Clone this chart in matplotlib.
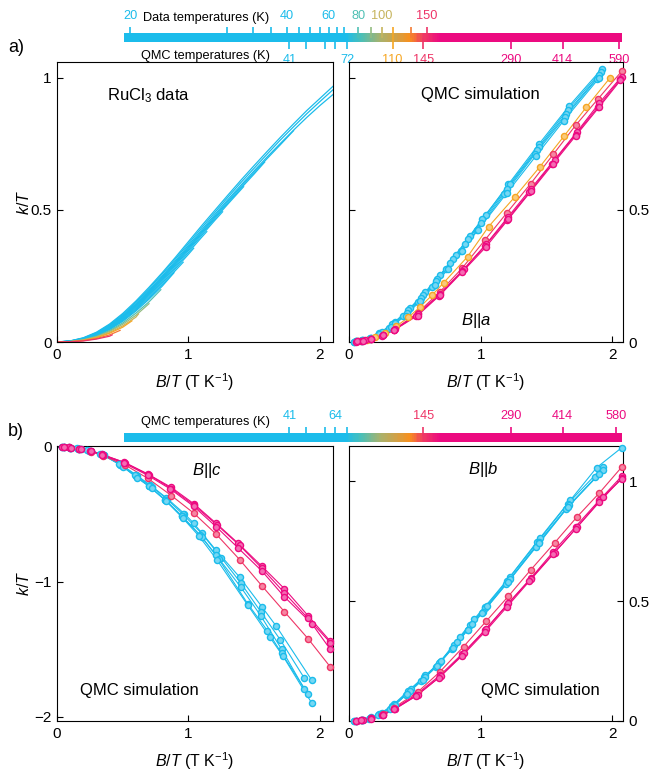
import numpy as np
import matplotlib
matplotlib.use("Agg")
import matplotlib.pyplot as plt
from matplotlib.colors import LinearSegmentedColormap, to_rgb

plt.rcParams['font.family'] = ['Liberation Sans', 'DejaVu Sans']
plt.rcParams['mathtext.fontset'] = 'custom'
plt.rcParams['mathtext.rm'] = 'Liberation Sans'
plt.rcParams['mathtext.it'] = 'Liberation Sans:italic'
plt.rcParams['mathtext.bf'] = 'Liberation Sans:bold'
plt.rcParams['axes.linewidth'] = 0.8

# ---------------------------------------------------------------- data
# RuCl3 measurements: k/T on a common B/T grid, each curve stops at its own end point
data_temps = [20, 25, 30, 35, 40, 45, 50, 55, 60, 65, 70, 80, 90, 100, 110, 130, 150]
data_grid = [0.0, 0.1, 0.2, 0.3, 0.4, 0.5, 0.6, 0.7, 0.8, 0.9, 1.0,
             1.1, 1.2, 1.3, 1.4, 1.5, 1.6, 1.7, 1.8, 1.9, 2.0]
data_end_x = [2.1, 2.1, 2.1, 1.8, 1.58, 1.42, 1.26, 1.14, 1.04, 0.96, 0.89,
              0.79, 0.70, 0.62, 0.57, 0.48, 0.42]
data_k_over_t = [
    [0, .004, .016, .037, .068, .108, .155, .207, .262, .320, .380, .440, .498, .556, .613, .668, .722, .775, .826, .876, .922, .968],
    [0, .004, .015, .035, .065, .104, .150, .202, .257, .314, .373, .432, .490, .548, .604, .658, .712, .765, .815, .864, .910, .955],
    [0, .003, .014, .033, .062, .100, .145, .196, .250, .307, .366, .424, .482, .539, .594, .648, .701, .752, .802, .850, .895, .937],
    [0, .003, .013, .032, .060, .097, .142, .192, .246, .302, .360, .418, .476, .533, .588, .642, .695, .747, .800],
    [0, .003, .013, .031, .058, .095, .139, .189, .242, .298, .356, .414, .471, .527, .582, .636, .681],
    [0, .003, .012, .030, .057, .093, .136, .185, .238, .294, .351, .409, .466, .522, .577, .588],
    [0, .003, .012, .029, .055, .090, .133, .182, .234, .289, .346, .403, .460, .493],
    [0, .002, .011, .028, .053, .087, .129, .177, .229, .283, .339, .396, .418],
    [0, .002, .011, .027, .051, .084, .125, .172, .223, .277, .332, .355],
    [0, .002, .010, .025, .049, .081, .121, .167, .217, .270, .302],
    [0, .002, .010, .024, .047, .078, .117, .162, .211, .262],
    [0, .002, .009, .022, .043, .072, .109, .152, .198],
    [0, .002, .008, .020, .040, .067, .101, .145],
    [0, .001, .007, .018, .036, .061, .094, .106],
    [0, .001, .006, .016, .033, .056, .080],
    [0, .001, .005, .013, .027, .044],
    [0, .001, .004, .011, .022, .027],
]

# QMC simulation, B || a
qmc_a_temps = [41, 48, 58, 64, 72, 110, 145, 290, 414, 590]
qmc_a_x = [
    [0.05, 0.11, 0.17, 0.23, 0.35, 0.46, 0.58, 0.69, 0.81, 0.92, 1.04, 1.21, 1.44, 1.67, 1.92],
    [0.04, 0.10, 0.16, 0.24, 0.33, 0.45, 0.56, 0.67, 0.79, 0.90, 1.01, 1.22, 1.44, 1.66, 1.91],
    [0.05, 0.10, 0.17, 0.25, 0.35, 0.44, 0.55, 0.66, 0.77, 0.88, 1.00, 1.20, 1.43, 1.65, 1.90],
    [0.04, 0.09, 0.15, 0.22, 0.30, 0.41, 0.52, 0.63, 0.74, 0.85, 0.97, 1.18, 1.41, 1.64, 1.88],
    [0.05, 0.10, 0.16, 0.23, 0.32, 0.43, 0.54, 0.65, 0.75, 0.86, 0.98, 1.20, 1.42, 1.63, 1.90],
    [0.07, 0.14, 0.20, 0.27, 0.36, 0.45, 0.54, 0.63, 0.72, 0.90, 1.06, 1.26, 1.45, 1.63, 1.80, 1.98],
    [0.09, 0.17, 0.26, 0.34, 0.52, 0.69, 0.86, 1.03, 1.20, 1.38, 1.55, 1.72, 1.89, 2.07],
    [0.07, 0.12, 0.17, 0.26, 0.35, 0.52, 0.69, 0.87, 1.04, 1.21, 1.38, 1.56, 1.73, 1.90, 2.07],
    [0.05, 0.10, 0.17, 0.25, 0.34, 0.51, 0.68, 0.86, 1.03, 1.20, 1.37, 1.54, 1.72, 1.89, 2.06],
    [0.06, 0.11, 0.17, 0.26, 0.34, 0.52, 0.69, 0.86, 1.04, 1.21, 1.38, 1.55, 1.72, 1.90, 2.06],
]
qmc_a_y = [
    [0.002, 0.008, 0.017, 0.033, 0.077, 0.127, 0.190, 0.252, 0.330, 0.403, 0.482, 0.597, 0.748, 0.893, 1.035],
    [0.001, 0.006, 0.015, 0.034, 0.068, 0.120, 0.177, 0.240, 0.315, 0.390, 0.465, 0.598, 0.740, 0.880, 1.022],
    [0.002, 0.006, 0.016, 0.036, 0.073, 0.110, 0.168, 0.230, 0.300, 0.372, 0.450, 0.580, 0.728, 0.865, 1.010],
    [0.001, 0.005, 0.012, 0.027, 0.053, 0.097, 0.150, 0.210, 0.275, 0.345, 0.423, 0.560, 0.710, 0.852, 0.995],
    [0.002, 0.005, 0.013, 0.029, 0.058, 0.100, 0.155, 0.215, 0.275, 0.345, 0.425, 0.565, 0.705, 0.838, 1.000],
    [0.002, 0.008, 0.018, 0.034, 0.060, 0.093, 0.133, 0.177, 0.225, 0.323, 0.437, 0.550, 0.664, 0.778, 0.888, 0.999],
    [0.004, 0.012, 0.027, 0.046, 0.110, 0.190, 0.280, 0.385, 0.490, 0.600, 0.710, 0.820, 0.920, 1.025],
    [0.002, 0.006, 0.012, 0.026, 0.048, 0.105, 0.183, 0.275, 0.370, 0.475, 0.580, 0.690, 0.795, 0.905, 1.005],
    [0.001, 0.004, 0.011, 0.024, 0.045, 0.100, 0.175, 0.268, 0.362, 0.463, 0.567, 0.675, 0.785, 0.890, 0.995],
    [0.002, 0.005, 0.011, 0.025, 0.044, 0.100, 0.177, 0.265, 0.360, 0.465, 0.570, 0.675, 0.780, 0.890, 0.990],
]

# QMC simulation, B || c
qmc_c_temps = [41, 48, 58, 64, 72, 145, 290, 414, 580]
qmc_c_x = [
    [0.04, 0.10, 0.17, 0.25, 0.36, 0.50, 0.61, 0.71, 0.83, 0.97, 1.04, 1.21, 1.39, 1.56, 1.67, 1.94],
    [0.05, 0.11, 0.18, 0.26, 0.35, 0.49, 0.60, 0.72, 0.84, 0.96, 1.10, 1.25, 1.40, 1.55, 1.70, 1.88],
    [0.05, 0.10, 0.16, 0.24, 0.34, 0.48, 0.60, 0.70, 0.82, 0.95, 1.09, 1.21, 1.40, 1.55, 1.71, 1.88],
    [0.04, 0.09, 0.15, 0.23, 0.33, 0.47, 0.59, 0.70, 0.82, 0.95, 1.10, 1.23, 1.45, 1.60, 1.71, 1.91],
    [0.05, 0.10, 0.17, 0.25, 0.36, 0.50, 0.61, 0.72, 0.83, 0.96, 1.08, 1.22, 1.45, 1.62, 1.72, 1.94],
    [0.09, 0.17, 0.26, 0.35, 0.52, 0.69, 0.87, 1.04, 1.21, 1.39, 1.56, 1.73, 1.91, 2.08],
    [0.05, 0.10, 0.17, 0.26, 0.34, 0.51, 0.69, 0.87, 1.04, 1.21, 1.38, 1.56, 1.73, 1.91, 2.08],
    [0.04, 0.09, 0.17, 0.25, 0.35, 0.52, 0.70, 0.87, 1.04, 1.22, 1.39, 1.56, 1.73, 1.91, 2.08],
    [0.05, 0.11, 0.18, 0.26, 0.34, 0.51, 0.69, 0.86, 1.04, 1.21, 1.38, 1.56, 1.73, 1.94, 2.08],
]
qmc_c_y = [
    [-0.001, -0.005, -0.013, -0.028, -0.058, -0.138, -0.213, -0.283, -0.375, -0.495, -0.565, -0.765, -0.965, -1.185, -1.330, -1.730],
    [-0.002, -0.006, -0.015, -0.031, -0.057, -0.135, -0.210, -0.293, -0.390, -0.500, -0.640, -0.820, -1.010, -1.220, -1.430, -1.710],
    [-0.002, -0.005, -0.012, -0.027, -0.054, -0.132, -0.215, -0.290, -0.390, -0.510, -0.655, -0.800, -1.040, -1.250, -1.500, -1.790],
    [-0.001, -0.004, -0.011, -0.025, -0.050, -0.125, -0.210, -0.290, -0.392, -0.515, -0.665, -0.830, -1.160, -1.360, -1.530, -1.830],
    [-0.002, -0.005, -0.014, -0.030, -0.060, -0.145, -0.230, -0.305, -0.400, -0.530, -0.660, -0.840, -1.170, -1.410, -1.550, -1.900],
    [-0.004, -0.015, -0.035, -0.065, -0.135, -0.232, -0.360, -0.490, -0.645, -0.835, -1.030, -1.220, -1.420, -1.630],
    [-0.002, -0.005, -0.013, -0.030, -0.055, -0.113, -0.200, -0.300, -0.420, -0.565, -0.715, -0.885, -1.050, -1.250, -1.440],
    [-0.001, -0.004, -0.014, -0.030, -0.058, -0.118, -0.207, -0.308, -0.430, -0.580, -0.730, -0.900, -1.080, -1.270, -1.450],
    [-0.002, -0.006, -0.016, -0.031, -0.058, -0.120, -0.210, -0.310, -0.440, -0.590, -0.750, -0.920, -1.110, -1.310, -1.500],
]

# QMC simulation, B || b
qmc_b_temps = [41, 48, 58, 64, 72, 145, 290, 414, 580]
qmc_b_x = [
    [0.05, 0.11, 0.17, 0.23, 0.34, 0.47, 0.58, 0.69, 0.84, 0.95, 1.03, 1.22, 1.45, 1.68, 1.88, 2.07],
    [0.04, 0.10, 0.16, 0.24, 0.33, 0.45, 0.57, 0.68, 0.80, 0.92, 1.03, 1.20, 1.43, 1.66, 1.93],
    [0.05, 0.10, 0.17, 0.25, 0.35, 0.46, 0.58, 0.70, 0.82, 0.93, 1.05, 1.22, 1.44, 1.67, 1.93],
    [0.04, 0.09, 0.15, 0.22, 0.31, 0.43, 0.55, 0.66, 0.78, 0.90, 1.02, 1.19, 1.42, 1.65, 1.87],
    [0.05, 0.10, 0.16, 0.24, 0.33, 0.44, 0.56, 0.67, 0.79, 0.90, 1.01, 1.21, 1.44, 1.66, 1.90],
    [0.09, 0.17, 0.26, 0.34, 0.52, 0.69, 0.87, 1.04, 1.21, 1.38, 1.56, 1.73, 1.90, 2.07],
    [0.05, 0.10, 0.17, 0.26, 0.34, 0.51, 0.69, 0.86, 1.03, 1.20, 1.38, 1.55, 1.72, 1.90, 2.07],
    [0.06, 0.11, 0.17, 0.25, 0.35, 0.52, 0.70, 0.87, 1.04, 1.21, 1.38, 1.56, 1.73, 1.90, 2.07],
    [0.05, 0.09, 0.17, 0.26, 0.34, 0.51, 0.68, 0.86, 1.03, 1.20, 1.37, 1.55, 1.72, 1.93, 2.07],
]
qmc_b_y = [
    [0.002, 0.006, 0.015, 0.028, 0.070, 0.135, 0.190, 0.245, 0.350, 0.425, 0.475, 0.600, 0.763, 0.920, 1.056, 1.139],
    [0.001, 0.005, 0.012, 0.030, 0.062, 0.123, 0.183, 0.240, 0.318, 0.402, 0.470, 0.585, 0.745, 0.905, 1.060],
    [0.002, 0.005, 0.014, 0.032, 0.068, 0.125, 0.185, 0.250, 0.328, 0.405, 0.480, 0.590, 0.745, 0.900, 1.045],
    [0.001, 0.004, 0.010, 0.024, 0.052, 0.108, 0.168, 0.225, 0.300, 0.380, 0.455, 0.570, 0.725, 0.885, 1.015],
    [0.002, 0.005, 0.012, 0.028, 0.058, 0.112, 0.172, 0.230, 0.305, 0.378, 0.450, 0.580, 0.740, 0.890, 1.030],
    [0.004, 0.013, 0.030, 0.055, 0.120, 0.205, 0.310, 0.415, 0.520, 0.630, 0.742, 0.850, 0.950, 1.058],
    [0.002, 0.004, 0.011, 0.026, 0.050, 0.110, 0.190, 0.280, 0.378, 0.485, 0.595, 0.705, 0.810, 0.920, 1.020],
    [0.002, 0.005, 0.011, 0.024, 0.050, 0.109, 0.188, 0.282, 0.383, 0.490, 0.593, 0.702, 0.807, 0.912, 1.012],
    [0.002, 0.004, 0.010, 0.025, 0.048, 0.104, 0.180, 0.272, 0.370, 0.476, 0.583, 0.695, 0.800, 0.935, 1.008],
]

# temperature bars
bar_a_data_ticks = [20, 25, 30, 35, 40, 45, 50, 55, 60, 65, 70, 80, 90, 100, 110, 130, 150]
bar_a_data_labels = [20, 40, 60, 80, 100, 150]
bar_a_qmc_ticks = [41, 48, 58, 64, 72, 110, 145, 290, 414, 590]
bar_a_qmc_labels = [41, 72, 110, 145, 290, 414, 590]
bar_b_qmc_ticks = [41, 48, 58, 64, 72, 145, 290, 414, 580]
bar_b_qmc_labels = [41, 64, 145, 290, 414, 580]

# ---------------------------------------------------------------- colours
CYAN = '#1BBCEB'
color_anchor_T = [72, 80, 90, 100, 110, 130, 145, 200, 290]
color_anchor_hex = [CYAN, '#4FC0B4', '#93BC82', '#C6B45C', '#F6A623',
                    '#F47A34', '#EE3566', '#EC1F76', '#EC0A80']
_anchor_rgb = np.array([to_rgb(c) for c in color_anchor_hex])


def temp_color(T):
    return tuple(float(np.interp(T, color_anchor_T, _anchor_rgb[:, i])) for i in range(3))


def tint(c, f=0.4):
    c = np.array(to_rgb(c))
    return tuple(c + (1 - c) * f)


bar_cmap = LinearSegmentedColormap.from_list('tempbar', [
    (0.0, CYAN), (0.444, CYAN), (0.478, '#4CBFB6'), (0.514, '#A8B26C'),
    (0.548, '#D3A046'), (0.574, '#F7901E'), (0.600, '#EF3C62'),
    (0.635, '#EC0A80'), (1.0, '#EC0A80')])

# non-linear temperature scale used by the bars
bar_scale_T = np.array([19.7, 20, 25, 30, 40, 60, 80, 100, 150, 290, 414, 590, 600])
bar_scale_frac = np.array([0.0, 0.0129, 0.2074, 0.2596, 0.3271, 0.4110, 0.4701,
                           0.5181, 0.6084, 0.7765, 0.8807, 0.9940, 1.0])


def bar_fwd(T):
    T = np.clip(np.asarray(T, dtype=float), 1e-3, None)
    return np.interp(np.log(T), np.log(bar_scale_T), bar_scale_frac)


def bar_inv(f):
    return np.exp(np.interp(np.asarray(f, dtype=float), bar_scale_frac, np.log(bar_scale_T)))


# ---------------------------------------------------------------- figure
W, H = 652, 772
fig = plt.figure(figsize=(W / 100, H / 100), dpi=100)


def px_axes(x0, y0, x1, y1):
    return fig.add_axes([x0 / W, 1 - y1 / H, (x1 - x0) / W, (y1 - y0) / H])


def make_bar(y0, y1):
    cax = px_axes(124, y0, 622, y1)
    cax.set_xscale('function', functions=(bar_fwd, bar_inv))
    cax.set_xlim(bar_scale_T[0], bar_scale_T[-1])
    cax.set_ylim(0, 1)
    edges = bar_inv(np.linspace(0, 1, 600))
    cax.pcolormesh(edges, [0, 1], np.linspace(0, 1, 599)[None, :], cmap=bar_cmap,
                   vmin=0, vmax=1, shading='flat', antialiased=False, linewidth=0)
    cax.set_axis_off()
    return cax


def bar_ticks(cax, temps, y0, y1):
    cax.vlines(temps, y0, y1, colors=[temp_color(t) for t in temps], lw=1.2,
               transform=cax.get_xaxis_transform(), clip_on=False, zorder=3)


def bar_labels(cax, temps, y):
    for t in temps:
        cax.text(t, y, str(t), transform=cax.get_xaxis_transform(), ha='center',
                 va='center', color=temp_color(t), fontsize=9.2, clip_on=False)


# bar for panel a
bar_a = make_bar(33, 42)
bar_ticks(bar_a, [t for t in bar_a_data_ticks if t != 110], 0.4, 1.7)
bar_ticks(bar_a, [t for t in bar_a_qmc_ticks if t != 110], -0.75, 0.5)
bar_ticks(bar_a, [110], -0.75, 1.7)
bar_labels(bar_a, bar_a_data_labels, 2.85)
bar_labels(bar_a, bar_a_qmc_labels, -2.05)
fig.text(143 / W, 1 - 17.5 / H, 'Data temperatures (K)', fontsize=9.2, va='center', ha='left')
fig.text(141 / W, 1 - 56 / H, 'QMC temperatures (K)', fontsize=9.2, va='center', ha='left')

# bar for panel b
bar_b = make_bar(433, 441.5)
bar_ticks(bar_b, bar_b_qmc_ticks, 0.6, 1.7)
bar_labels(bar_b, bar_b_qmc_labels, 3.05)
fig.text(141 / W, 1 - 421.5 / H, 'QMC temperatures (K)', fontsize=9.2, va='center', ha='left')

fig.text(8 / W, 1 - 47 / H, 'a)', fontsize=13, va='center', ha='left')
fig.text(8 / W, 1 - 431 / H, 'b)', fontsize=13, va='center', ha='left')

ax_al = px_axes(57, 62, 333, 342)
ax_ar = px_axes(349, 62, 623, 342)
ax_bl = px_axes(57, 446, 333, 721)
ax_br = px_axes(349, 446, 623, 721)


def style(ax, right=False):
    ax.tick_params(direction='in', length=4, width=0.8, labelsize=11, pad=4)
    if right:
        ax.yaxis.set_ticks_position('both')
        ax.tick_params(axis='y', labelleft=False, labelright=True)
    ax.set_xticks([0, 1, 2])
    ax.set_xticklabels(['0', '1', '2'])
    ax.set_xlabel('$B/T$ (T K$^{-1}$)', fontsize=11.5, labelpad=7)


def plot_qmc(ax, temps, xs, ys):
    for T, x, y in zip(temps, xs, ys):
        c = temp_color(T)
        ax.plot(x, y, '-', color=c, lw=0.8, zorder=2)
        ax.plot(x, y, 'o', ms=4.4, mfc=tint(c), mec=c, mew=1.0, zorder=3, clip_on=False)


# a) left: measured data
for T, end, ys in zip(data_temps, data_end_x, data_k_over_t):
    xs = [g for g in data_grid if g < end - 1e-9] + [end]
    ax_al.plot(xs, ys, '-', color=temp_color(T), lw=0.9)
ax_al.set_xlim(0, 2.1)
ax_al.set_ylim(0, 1.06)
ax_al.set_yticks([0, 0.5, 1])
ax_al.set_yticklabels(['0', '0.5', '1'])
style(ax_al)
ax_al.set_ylabel('$k/T$', fontsize=11.5)
ax_al.yaxis.set_label_coords(-0.092, 0.5)
ax_al.text(0.33, 0.88, 'RuCl$_3$ data', transform=ax_al.transAxes, fontsize=12,
           ha='center', va='center')

# a) right: QMC, B || a
plot_qmc(ax_ar, qmc_a_temps, qmc_a_x, qmc_a_y)
ax_ar.set_xlim(0, 2.08)
ax_ar.set_ylim(0, 1.06)
ax_ar.set_yticks([0, 0.5, 1])
ax_ar.set_yticklabels(['0', '0.5', '1'])
style(ax_ar, right=True)
ax_ar.text(0.48, 0.885, 'QMC simulation', transform=ax_ar.transAxes, fontsize=12,
           ha='center', va='center')
ax_ar.text(0.465, 0.075, '$B$||$a$', transform=ax_ar.transAxes, fontsize=12,
           ha='center', va='center')

# b) left: QMC, B || c
plot_qmc(ax_bl, qmc_c_temps, qmc_c_x, qmc_c_y)
ax_bl.set_xlim(0, 2.1)
ax_bl.set_ylim(-2.03, 0.007)
ax_bl.set_yticks([-2, -1, 0])
ax_bl.set_yticklabels(['\u22122', '\u22121', '0'])
style(ax_bl)
ax_bl.set_ylabel('$k/T$', fontsize=11.5)
ax_bl.yaxis.set_label_coords(-0.092, 0.5)
ax_bl.text(0.545, 0.91, '$B$||$c$', transform=ax_bl.transAxes, fontsize=12,
           ha='center', va='center')
ax_bl.text(0.30, 0.11, 'QMC simulation', transform=ax_bl.transAxes, fontsize=12,
           ha='center', va='center')

# b) right: QMC, B || b
plot_qmc(ax_br, qmc_b_temps, qmc_b_x, qmc_b_y)
ax_br.set_xlim(0, 2.08)
ax_br.set_ylim(0, 1.146)
ax_br.set_yticks([0, 0.5, 1])
ax_br.set_yticklabels(['0', '0.5', '1'])
style(ax_br, right=True)
ax_br.text(0.49, 0.915, '$B$||$b$', transform=ax_br.transAxes, fontsize=12,
           ha='center', va='center')
ax_br.text(0.70, 0.11, 'QMC simulation', transform=ax_br.transAxes, fontsize=12,
           ha='center', va='center')

fig.savefig('out.png', dpi=100)
